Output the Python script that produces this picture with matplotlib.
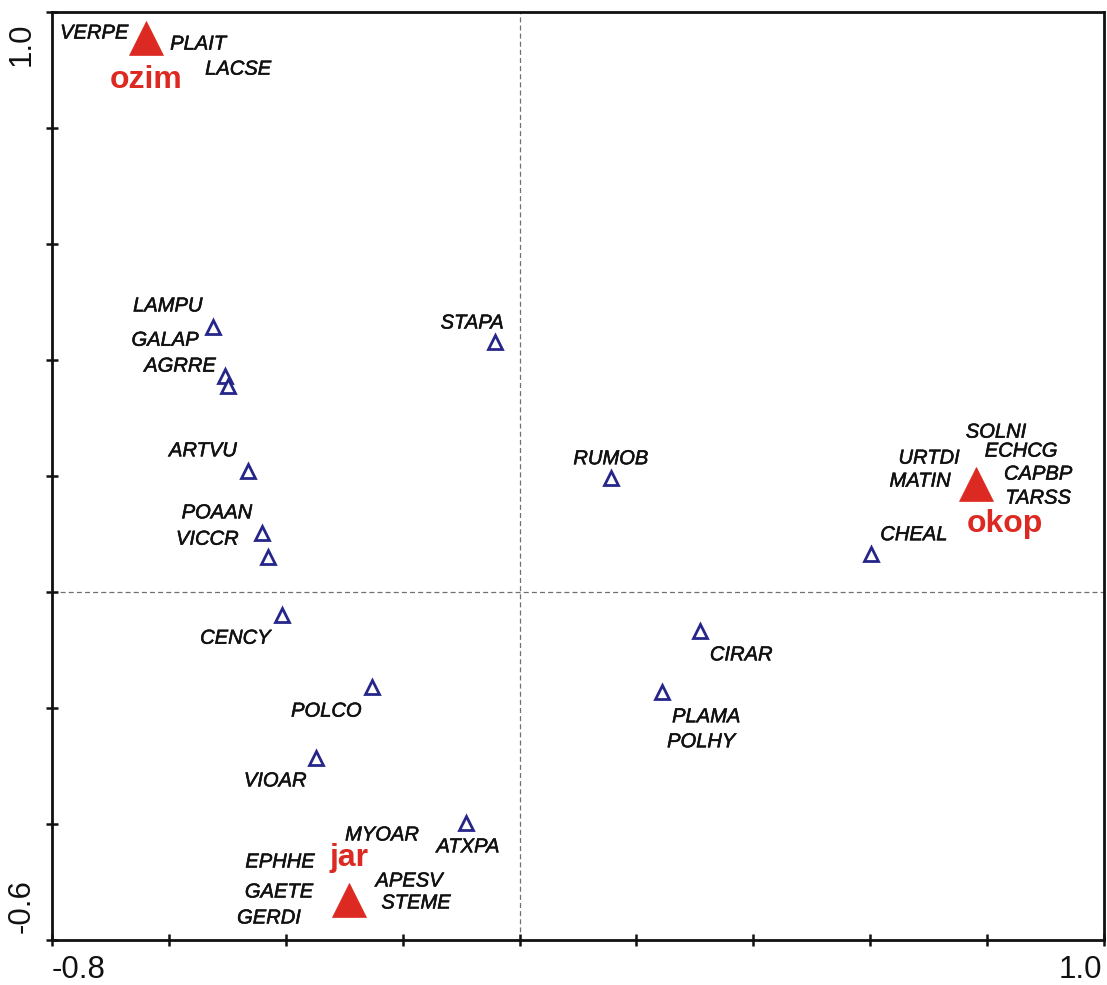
import matplotlib
matplotlib.use("Agg")
import matplotlib.pyplot as plt
import matplotlib.patheffects as pe
from matplotlib.transforms import blended_transform_factory, offset_copy

# Species scores (first two ordination axes)
species = ["LAMPU", "GALAP", "AGRRE", "ARTVU", "POAAN", "VICCR", "CENCY",
           "POLCO", "VIOAR", "ATXPA", "STAPA", "RUMOB", "CHEAL", "CIRAR", "PLAMA"]
species_x = [-0.525, -0.504, -0.499, -0.465, -0.441, -0.430, -0.406,
             -0.252, -0.348, -0.092, -0.042, 0.156, 0.601, 0.309, 0.244]
species_y = [0.457, 0.372, 0.355, 0.209, 0.102, 0.060, -0.040,
             -0.164, -0.286, -0.398, 0.431, 0.197, 0.066, -0.067, -0.172]

# Centroids of the crop-type classes
crops = ["ozim", "okop", "jar"]
crop_x = [-0.639, 0.781, -0.292]
crop_y = [0.955, 0.186, -0.531]

# Species whose scores coincide with a crop centroid or another species
extra_labels = {
    "ozim": ["VERPE", "PLAIT", "LACSE"],
    "okop": ["SOLNI", "ECHCG", "URTDI", "MATIN", "CAPBP", "TARSS"],
    "jar": ["MYOAR", "EPHHE", "GAETE", "GERDI", "APESV", "STEME"],
    "PLAMA": ["POLHY"],
}

x_range = [-0.8, 1.0]
y_range = [-0.6, 1.0]
tick_step = 0.2

# Label placement (pixel offsets from the anchoring mark)
label_offsets = {
    "LAMPU": (-45, 21), "GALAP": (-60, 36), "AGRRE": (-48, 20),
    "ARTVU": (-45, 20), "POAAN": (-45, 20), "VICCR": (-61, 18),
    "CENCY": (-47, -23), "POLCO": (-46, -24), "VIOAR": (-41, -23),
    "ATXPA": (2, -24), "STAPA": (-23, 19), "RUMOB": (0, 19),
    "CHEAL": (43, 19), "CIRAR": (41, -24), "PLAMA": (44, -25),
    "POLHY": (39, -50),
    "VERPE": (-52, 5), "PLAIT": (52, -6), "LACSE": (92, -31),
    "SOLNI": (20, 52), "ECHCG": (45, 33), "URTDI": (-47, 26),
    "MATIN": (-56, 3), "CAPBP": (62, 10), "TARSS": (62, -14),
    "MYOAR": (33, 65), "EPHHE": (-69, 38), "GAETE": (-70, 8),
    "GERDI": (-80, -18), "APESV": (60, 19), "STEME": (67, -3),
}
crop_label_offsets = {"ozim": (0, -42), "okop": (29, -40), "jar": (0, 42)}

BLUE = "#26268a"
RED = "#dc2a22"

fig = plt.figure(figsize=(11.07, 9.85), dpi=100)
ax = fig.add_axes([52 / 1107, 1 - 940 / 985, 1052 / 1107, 928 / 985])
ax.set_xlim(*x_range)
ax.set_ylim(*y_range)

# Origin cross-hairs
ax.axhline(0, color="#707070", lw=0.9, ls=(0, (4, 2.5)), zorder=1)
ax.axvline(0, color="#707070", lw=0.9, ls=(0, (4, 2.5)), zorder=1)

ax.plot(species_x, species_y, ls="none", marker="^", ms=10, mfc="white",
        mec=BLUE, mew=2.0, zorder=3)
ax.plot(crop_x, crop_y, ls="none", marker="^", ms=24, mfc=RED, mec=RED,
        mew=0.5, zorder=4)

halo = [pe.withStroke(linewidth=0.4, foreground="#111111")]
label_font = dict(family="Liberation Sans", style="italic", fontsize=14.5,
                  color="#111111", ha="center", va="center",
                  path_effects=halo)

anchors = {n: (x, y) for n, x, y in zip(species, species_x, species_y)}
anchors.update({n: (x, y) for n, x, y in zip(crops, crop_x, crop_y)})

for name in species:
    ax.annotate(name, anchors[name], xytext=label_offsets[name],
                textcoords="offset pixels", zorder=5, **label_font)
for anchor, names in extra_labels.items():
    for name in names:
        ax.annotate(name, anchors[anchor], xytext=label_offsets[name],
                    textcoords="offset pixels", zorder=5, **label_font)
for name in crops:
    ax.annotate(name, anchors[name], xytext=crop_label_offsets[name],
                textcoords="offset pixels", family="Liberation Sans",
                fontweight="bold", fontsize=23, color=RED, ha="center",
                va="center", zorder=5)

# Axes frame and ticks
for s in ax.spines.values():
    s.set_linewidth(2.0)
    s.set_color("#111111")
n_x = round((x_range[1] - x_range[0]) / tick_step)
n_y = round((y_range[1] - y_range[0]) / tick_step)
ax.set_xticks([x_range[0] + i * tick_step for i in range(n_x + 1)])
ax.set_yticks([y_range[0] + i * tick_step for i in range(n_y + 1)])
ax.set_xticklabels([])
ax.set_yticklabels([])
ax.tick_params(direction="inout", length=8, width=1.8, color="#111111",
               top=False, right=False)

tick_font = dict(family="Liberation Sans", fontsize=22.5, color="#111111")
bx = blended_transform_factory(ax.transData, ax.transAxes)
by = blended_transform_factory(ax.transAxes, ax.transData)
ax.text(x_range[0], 0, f"{x_range[0]:.1f}", transform=offset_copy(bx, fig, 0, -15, units="dots"),
        ha="left", va="top", **tick_font)
ax.text(x_range[1], 0, f"{x_range[1]:.1f}", transform=offset_copy(bx, fig, -2, -15, units="dots"),
        ha="right", va="top", **tick_font)
ax.text(0, y_range[1], f"{y_range[1]:.1f}", transform=offset_copy(by, fig, -15, -10, units="dots"),
        ha="right", va="top", rotation=90, **tick_font)
ax.text(0, y_range[0], f"{y_range[0]:.1f}", transform=offset_copy(by, fig, -15, 7, units="dots"),
        ha="right", va="bottom", rotation=90, **tick_font)

fig.savefig("out.png", dpi=100)
